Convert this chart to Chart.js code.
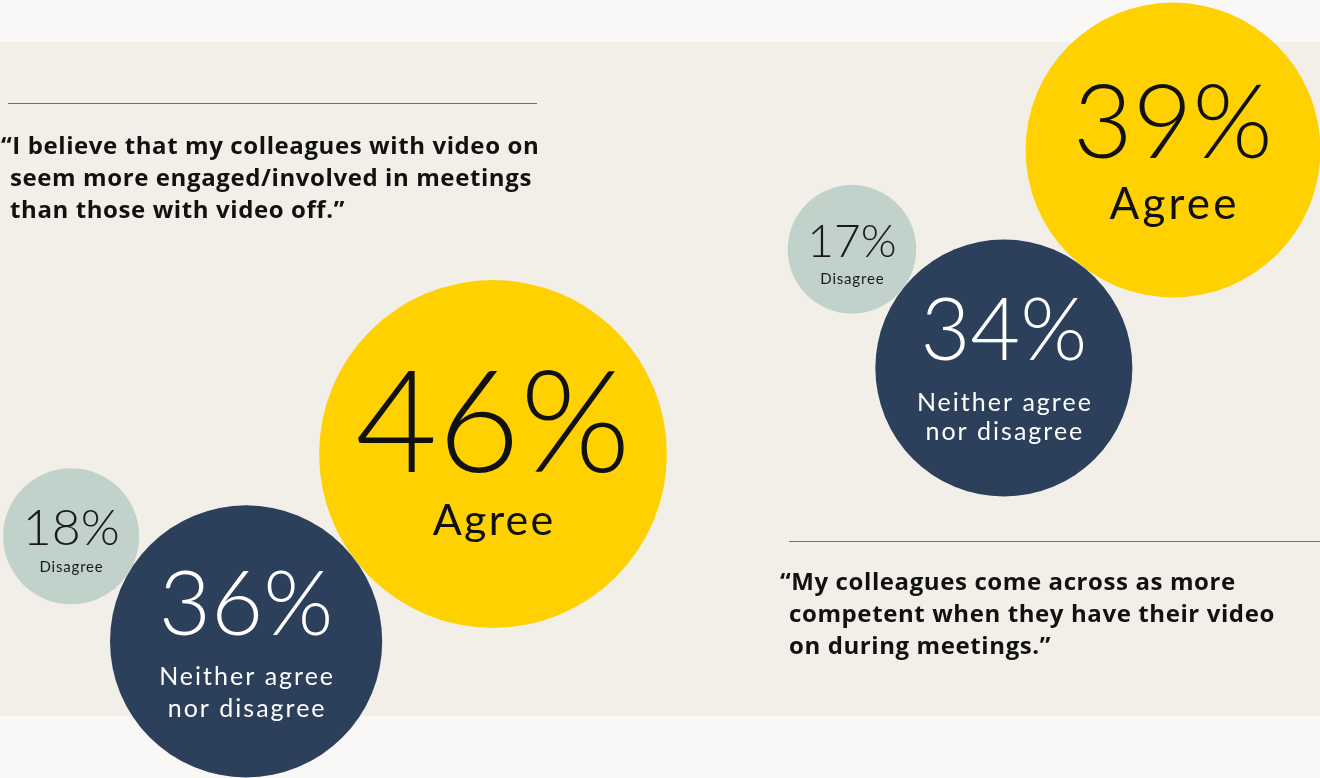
<!DOCTYPE html>
<html>
<head>
<meta charset="utf-8">
<script src="https://cdn.jsdelivr.net/npm/chart.js@4/dist/chart.umd.min.js"></script>
<style>
  html, body { margin: 0; padding: 0; background: #f9f8f6; }
  #wrap { position: relative; width: 1320px; height: 778px; overflow: hidden; }
  #cv { position: absolute; left: 0; top: 0; }
  .rule { position: absolute; height: 0; border-top: 1.5px solid #6f6f6f; }
  .quote {
    position: absolute; font-family: "Open Sans", sans-serif; font-weight: 700;
    font-size: 24px; line-height: 32px; color: #111; padding-left: 9px; text-indent: -9px;
    letter-spacing: 0.6px; white-space: nowrap;
  }
</style>
</head>
<body>
<div id="wrap">
  <canvas id="cv" width="1320" height="778"></canvas>
  <div class="rule" style="left:8px; top:103px; width:529px;"></div>
  <div class="quote" style="left:1px; top:129px;">“I believe that my colleagues with video on<br>seem more engaged/involved in meetings<br>than those with video off.”</div>
  <div class="rule" style="left:789px; top:541px; width:531px;"></div>
  <div class="quote" style="left:780px; top:565px;">“My colleagues come across as more<br>competent when they have their video<br>on during meetings.”</div>
</div>
<script>
// data
var answers = ['Agree', 'Neither agree\nnor disagree', 'Disagree'];
var leftValues = [46, 36, 18];
var rightValues = [39, 34, 17];
var colours = ['#ffd100', '#2c3f5b', '#c1d2ca'];
var textColours = ['#111111', '#ffffff', '#1a1a1a'];

// layout: radius per percent point, anchor of the big bubble, angles of the chain (deg)
var PX_PER_PCT = 3.78;
var leftLayout = { x: 493, y: 454, angles: [142.8, 211] };
var rightLayout = { x: 1173, y: 150, angles: [127.8, 218] };
// text styles per bubble: [pctSize, pctDy, labelSize, labelDy, lineHeight, labelSpacing]
var leftText = [[142, 18, 43, 81, 0, 2.2], [90, -6, 25, 44, 32, 2], [50, 9, 15, 36, 0, 0.8]];
var rightText = [[103, 8, 44, 69, 0, 3.2], [86, -8, 25, 43, 29, 2], [46, 8, 15, 35, 0, 0.8]];

function chain(values, layout) {
  var pts = [{ x: layout.x, y: layout.y, r: values[0] * PX_PER_PCT }];
  for (var i = 1; i < values.length; i++) {
    var prev = pts[i - 1];
    var r = values[i] * PX_PER_PCT;
    var a = layout.angles[i - 1] * Math.PI / 180;
    var d = prev.r + r;
    pts.push({ x: prev.x + Math.cos(a) * d, y: prev.y + Math.sin(a) * d, r: r });
  }
  return pts;
}

var backgroundPlugin = {
  id: 'bg',
  beforeDraw: function (chart) {
    var ctx = chart.ctx;
    ctx.save();
    ctx.fillStyle = '#f9f8f6';
    ctx.fillRect(0, 0, chart.width, chart.height);
    ctx.fillStyle = '#f2efe9';
    ctx.fillRect(0, 42, chart.width, 674);
    ctx.restore();
  }
};

var labelPlugin = {
  id: 'labels',
  afterDatasetsDraw: function (chart) {
    var ctx = chart.ctx;
    chart.data.datasets.forEach(function (dataset, i) {
      var meta = chart.getDatasetMeta(i);
      meta.data.forEach(function (el, index) {
        var st = dataset.textStyle[index];
        ctx.save();
        ctx.fillStyle = textColours[index];
        ctx.textAlign = 'center';
        ctx.textBaseline = 'alphabetic';
        ctx.font = '300 ' + st[0] + 'px Lato';
        ctx.fillText(dataset.values[index] + '%', el.x, el.y + st[1]);
        ctx.font = '400 ' + st[2] + 'px Lato';
        ctx.letterSpacing = st[5] + 'px';
        answers[index].split('\n').forEach(function (line, k) {
          ctx.fillText(line, el.x + st[5] / 2, el.y + st[3] + k * st[4]);
        });
        ctx.restore();
      });
    });
  }
};

new Chart('cv', {
  type: 'bubble',
  data: {
    datasets: [
      { label: 'Engaged', data: chain(leftValues, leftLayout), values: leftValues, textStyle: leftText,
        backgroundColor: colours, borderWidth: 0, hoverBorderWidth: 0, clip: false },
      { label: 'Competent', data: chain(rightValues, rightLayout), values: rightValues, textStyle: rightText,
        backgroundColor: colours, borderWidth: 0, hoverBorderWidth: 0, clip: false }
    ]
  },
  options: {
    responsive: false,
    animation: false,
    events: [],
    layout: { padding: 0, autoPadding: false },
    scales: {
      x: { type: 'linear', min: 0, max: 1320, display: false },
      y: { type: 'linear', min: 0, max: 778, reverse: true, display: false }
    },
    plugins: { legend: { display: false }, tooltip: { enabled: false } }
  },
  plugins: [backgroundPlugin, labelPlugin]
});
</script>
</body>
</html>
